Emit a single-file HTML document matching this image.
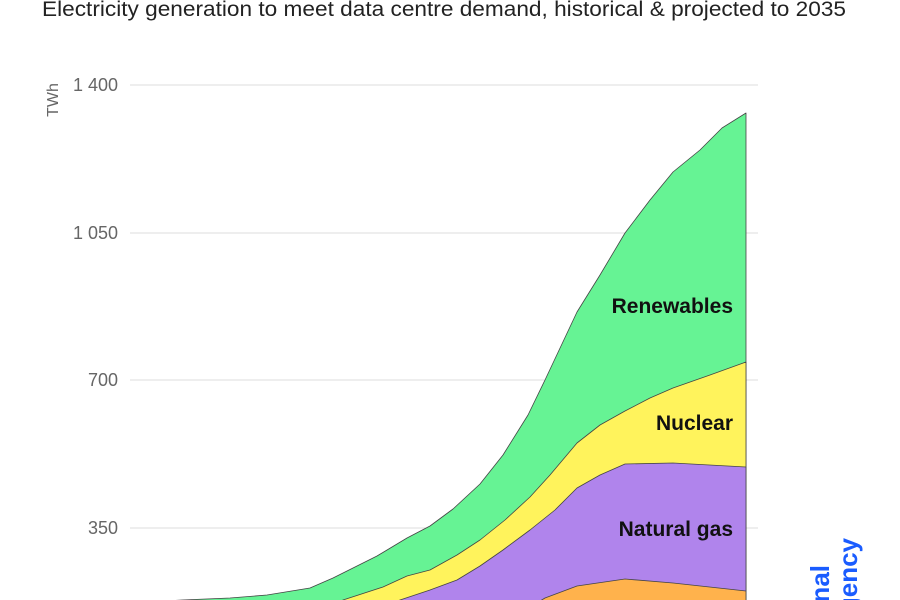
<!DOCTYPE html>
<html><head><meta charset="utf-8"><style>
html,body{margin:0;padding:0;background:#fff;width:900px;height:600px;overflow:hidden;}
svg{display:block;font-family:"Liberation Sans",sans-serif;overflow:hidden;}
</style></head><body>
<svg width="900" height="600" viewBox="0 0 900 600" xmlns="http://www.w3.org/2000/svg">
<text x="42" y="16" font-size="21" fill="#222" textLength="804" lengthAdjust="spacingAndGlyphs">Electricity generation to meet data centre demand, historical &amp; projected to 2035</text>
<g stroke="#dcdcdc" stroke-width="1">
<line x1="130" y1="85" x2="758" y2="85"/>
<line x1="130" y1="233" x2="758" y2="233"/>
<line x1="130" y1="380" x2="758" y2="380"/>
<line x1="130" y1="528" x2="758" y2="528"/>
</g>
<g font-size="18" fill="#666" text-anchor="end">
<text x="118" y="91">1 400</text>
<text x="118" y="239">1 050</text>
<text x="118" y="386">700</text>
<text x="118" y="534">350</text>
</g>
<text transform="translate(58,100) rotate(-90)" font-size="16" fill="#666" text-anchor="middle">TWh</text>
<g stroke="#444" stroke-width="0.8" stroke-linejoin="round">
<polygon fill="#66f394" points="150,602 182,600 230,598 267,595 310,588 333,578 377,556 407,538 430,526 453,509 480,484 503,455 528,415 545,380 577,312 600,275 625,233 650,200 673,172 700,150 722,128 746,113 746,620 150,620"/>
<polygon fill="#fff35c" points="335,604 343,600 383,587 407,576 430,570 457,555 480,540 505,520 530,497 550,475 577,443 600,425 625,411 650,398 673,388 710,375 746,362 746,620 335,620"/>
<polygon fill="#b084ec" points="390,604 400,600 430,590 457,580 480,566 503,550 530,530 555,510 577,488 600,475 625,464 673,463 746,467 746,620 390,620"/>
<polygon fill="#ffb24c" points="535,604 545,598 577,586 625,579 673,583 746,591 746,620 535,620"/>
</g>
<g font-size="21" font-weight="bold" fill="#111" text-anchor="end">
<text x="733" y="313">Renewables</text>
<text x="733" y="430">Nuclear</text>
<text x="733" y="536">Natural gas</text>
</g>
<g font-size="26" font-weight="bold" fill="#1a5cff" text-anchor="end">
<text transform="translate(829,565) rotate(-90)">International</text>
<text transform="translate(857,538) rotate(-90)">Energy Agency</text>
</g>
</svg>
</body></html>
